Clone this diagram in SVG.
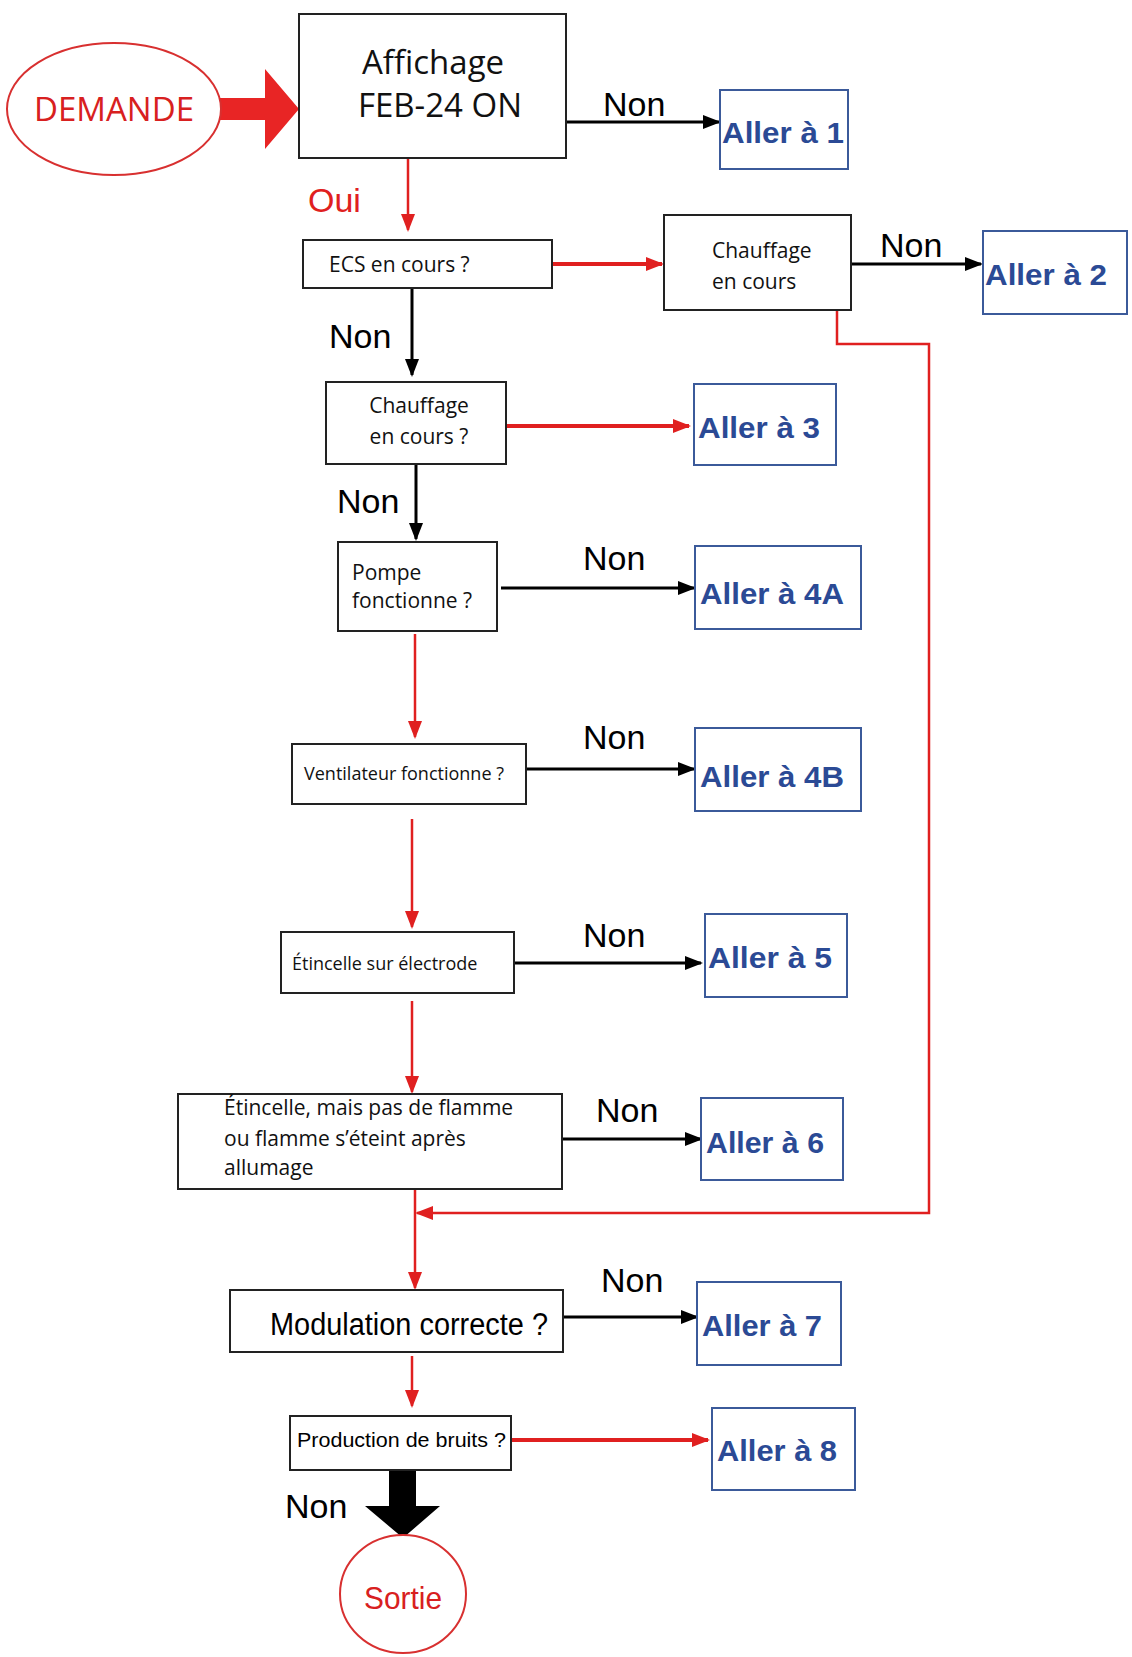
<svg xmlns="http://www.w3.org/2000/svg" width="1132" height="1657" viewBox="0 0 1132 1657">
<style>
.box{fill:#fff;stroke:#222;stroke-width:2}
.go{fill:#fff;stroke:#3b5a9a;stroke-width:2}
.gt{font-family:"Liberation Sans",Arial,sans-serif;font-weight:bold;font-size:30px;fill:#2b4a95}
.q{font-family:"Open Sans","Noto Sans",sans-serif;fill:#111}
.non{font-family:"Liberation Sans",Arial,sans-serif;font-size:34px;fill:#000}
.bk{stroke:#000;stroke-width:3;fill:none}
.rd{stroke:#e02020;stroke-width:2.5;fill:none}
.rdt{stroke:#e02020;stroke-width:4;fill:none}
</style>
<defs>
<marker id="ab" markerWidth="10" markerHeight="10" refX="8" refY="5" orient="auto" markerUnits="userSpaceOnUse" viewBox="0 0 10 10"><path d="M0,0 L10,5 L0,10 z" fill="#000"/></marker>
<marker id="ar" markerWidth="18" markerHeight="18" refX="16" refY="9" orient="auto" markerUnits="userSpaceOnUse" viewBox="0 0 18 18"><path d="M0,2 L18,9 L0,16 z" fill="#e02020"/></marker>
<marker id="abk" markerWidth="18" markerHeight="18" refX="16" refY="9" orient="auto" markerUnits="userSpaceOnUse" viewBox="0 0 18 18"><path d="M0,2 L18,9 L0,16 z" fill="#000"/></marker>
</defs>
<rect width="1132" height="1657" fill="#fff"/>
<g id="connectors">
<path d="M217,98 H265 V69 L299,109 L265,149 V120 H217 z" fill="#e82525"/>
<line class="bk" x1="566" y1="122" x2="719" y2="122" marker-end="url(#abk)" stroke-width="4"/>
<line class="rd" x1="408" y1="158" x2="408" y2="230" marker-end="url(#ar)"/>
<line class="rdt" x1="552" y1="264" x2="662" y2="264" marker-end="url(#ar)"/>
<line class="bk" x1="851" y1="264" x2="981" y2="264" marker-end="url(#abk)"/>
<polyline class="rd" points="837,310 837,344 929,344 929,1213 417,1213" marker-end="url(#ar)"/>
<line class="bk" x1="412" y1="288" x2="412" y2="375" marker-end="url(#abk)"/>
<line class="rdt" x1="506" y1="426" x2="689" y2="426" marker-end="url(#ar)"/>
<line class="bk" x1="416" y1="464" x2="416" y2="539" marker-end="url(#abk)"/>
<line class="bk" x1="501" y1="588" x2="694" y2="588" marker-end="url(#abk)"/>
<line class="rd" x1="415" y1="634" x2="415" y2="737" marker-end="url(#ar)"/>
<line class="bk" x1="526" y1="769" x2="694" y2="769" marker-end="url(#abk)"/>
<line class="rd" x1="412" y1="819" x2="412" y2="927" marker-end="url(#ar)"/>
<line class="bk" x1="514" y1="963" x2="701" y2="963" marker-end="url(#abk)"/>
<line class="rd" x1="412" y1="1001" x2="412" y2="1092" marker-end="url(#ar)"/>
<line class="bk" x1="562" y1="1139" x2="701" y2="1139" marker-end="url(#abk)"/>
<line class="rd" x1="415" y1="1189" x2="415" y2="1288" marker-end="url(#ar)"/>
<line class="bk" x1="563" y1="1317" x2="697" y2="1317" marker-end="url(#abk)"/>
<line class="rd" x1="412" y1="1356" x2="412" y2="1406" marker-end="url(#ar)"/>
<line class="rdt" x1="511" y1="1440" x2="708" y2="1440" marker-end="url(#ar)"/>
<path d="M389,1470 H416 V1506 H440 L403,1538 L365,1506 H389 z" fill="#000"/>
</g>
<g class="non">
<text x="603" y="116">Non</text>
<text x="308" y="212" fill="#e02020" font-size="34" stroke="none" style="fill:#e02020">Oui</text>
<text x="880" y="257">Non</text>
<text x="329" y="348">Non</text>
<text x="337" y="513">Non</text>
<text x="583" y="570">Non</text>
<text x="583" y="749">Non</text>
<text x="583" y="947">Non</text>
<text x="596" y="1122">Non</text>
<text x="601" y="1292">Non</text>
<text x="285" y="1518">Non</text>
</g>
<g id="demande"><ellipse cx="114" cy="109" rx="107" ry="66" fill="#fff" stroke="#d83030" stroke-width="2"/><text x="114" y="121" text-anchor="middle" font-family="Open Sans,Noto Sans,sans-serif" font-size="33" fill="#d82020">DEMANDE</text></g>
<g id="affichage"><rect class="box" x="299" y="14" width="267" height="144"/><text class="q" x="433" y="74" text-anchor="middle" font-size="33">Affichage</text><text class="q" x="440" y="117" text-anchor="middle" font-size="33">FEB-24 ON</text></g>
<g id="g1"><rect class="go" x="720" y="90" width="128" height="79"/><text class="gt" x="722" y="143" textLength="122" lengthAdjust="spacingAndGlyphs">Aller à 1</text></g>
<g id="ecs"><rect class="box" x="303" y="240" width="249" height="48"/><text class="q" x="329" y="272" font-size="21">ECS en cours ?</text></g>
<g id="chauf1"><rect class="box" x="664" y="215" width="187" height="95"/><text class="q" x="712" y="258" font-size="21">Chauffage</text><text class="q" x="712" y="289" font-size="21">en cours</text></g>
<g id="g2"><rect class="go" x="983" y="231" width="144" height="83"/><text class="gt" x="985" y="285" textLength="122" lengthAdjust="spacingAndGlyphs">Aller à 2</text></g>
<g id="chauf2"><rect class="box" x="326" y="382" width="180" height="82"/><text class="q" x="419" y="413" text-anchor="middle" font-size="21">Chauffage</text><text class="q" x="419" y="444" text-anchor="middle" font-size="21">en cours ?</text></g>
<g id="g3"><rect class="go" x="694" y="384" width="142" height="81"/><text class="gt" x="698" y="438" textLength="122" lengthAdjust="spacingAndGlyphs">Aller à 3</text></g>
<g id="pompe"><rect class="box" x="338" y="542" width="159" height="89"/><text class="q" x="352" y="580" font-size="21">Pompe</text><text class="q" x="352" y="608" font-size="21">fonctionne ?</text></g>
<g id="g4a"><rect class="go" x="695" y="546" width="166" height="83"/><text class="gt" x="700" y="604" textLength="144" lengthAdjust="spacingAndGlyphs">Aller à 4A</text></g>
<g id="ventil"><rect class="box" x="292" y="744" width="234" height="60"/><text class="q" x="304" y="780" font-size="18">Ventilateur fonctionne ?</text></g>
<g id="g4b"><rect class="go" x="695" y="728" width="166" height="83"/><text class="gt" x="700" y="787" textLength="144" lengthAdjust="spacingAndGlyphs">Aller à 4B</text></g>
<g id="etin"><rect class="box" x="281" y="932" width="233" height="61"/><text class="q" x="292" y="970" font-size="18">Étincelle sur électrode</text></g>
<g id="g5"><rect class="go" x="705" y="914" width="142" height="83"/><text class="gt" x="708" y="968" textLength="124" lengthAdjust="spacingAndGlyphs">Aller à 5</text></g>
<g id="etin2"><rect class="box" x="178" y="1094" width="384" height="95"/><text class="q" x="224" y="1115" font-size="21">Étincelle, mais pas de flamme</text><text class="q" x="224" y="1146" font-size="21">ou flamme s’éteint après</text><text class="q" x="224" y="1175" font-size="21">allumage</text></g>
<g id="g6"><rect class="go" x="701" y="1098" width="142" height="82"/><text class="gt" x="706" y="1153" textLength="118" lengthAdjust="spacingAndGlyphs">Aller à 6</text></g>
<g id="modul"><rect class="box" x="230" y="1290" width="333" height="62"/><text x="270" y="1335" font-family="Liberation Sans,Arial,sans-serif" font-size="31" textLength="278" lengthAdjust="spacingAndGlyphs">Modulation correcte ?</text></g>
<g id="g7"><rect class="go" x="697" y="1282" width="144" height="83"/><text class="gt" x="702" y="1336" textLength="120" lengthAdjust="spacingAndGlyphs">Aller à 7</text></g>
<g id="bruit"><rect class="box" x="290" y="1416" width="221" height="54"/><text x="297" y="1447" font-family="Liberation Sans,Arial,sans-serif" font-size="21" textLength="209" lengthAdjust="spacingAndGlyphs">Production de bruits ?</text></g>
<g id="g8"><rect class="go" x="712" y="1408" width="143" height="82"/><text class="gt" x="717" y="1461" textLength="120" lengthAdjust="spacingAndGlyphs">Aller à 8</text></g>
<g id="sortie"><ellipse cx="403" cy="1594" rx="63" ry="59" fill="#fff" stroke="#d83030" stroke-width="2"/><text x="403" y="1609" text-anchor="middle" font-family="Liberation Sans,Arial,sans-serif" font-size="32" fill="#d82020" textLength="78" lengthAdjust="spacingAndGlyphs">Sortie</text></g>
</svg>
